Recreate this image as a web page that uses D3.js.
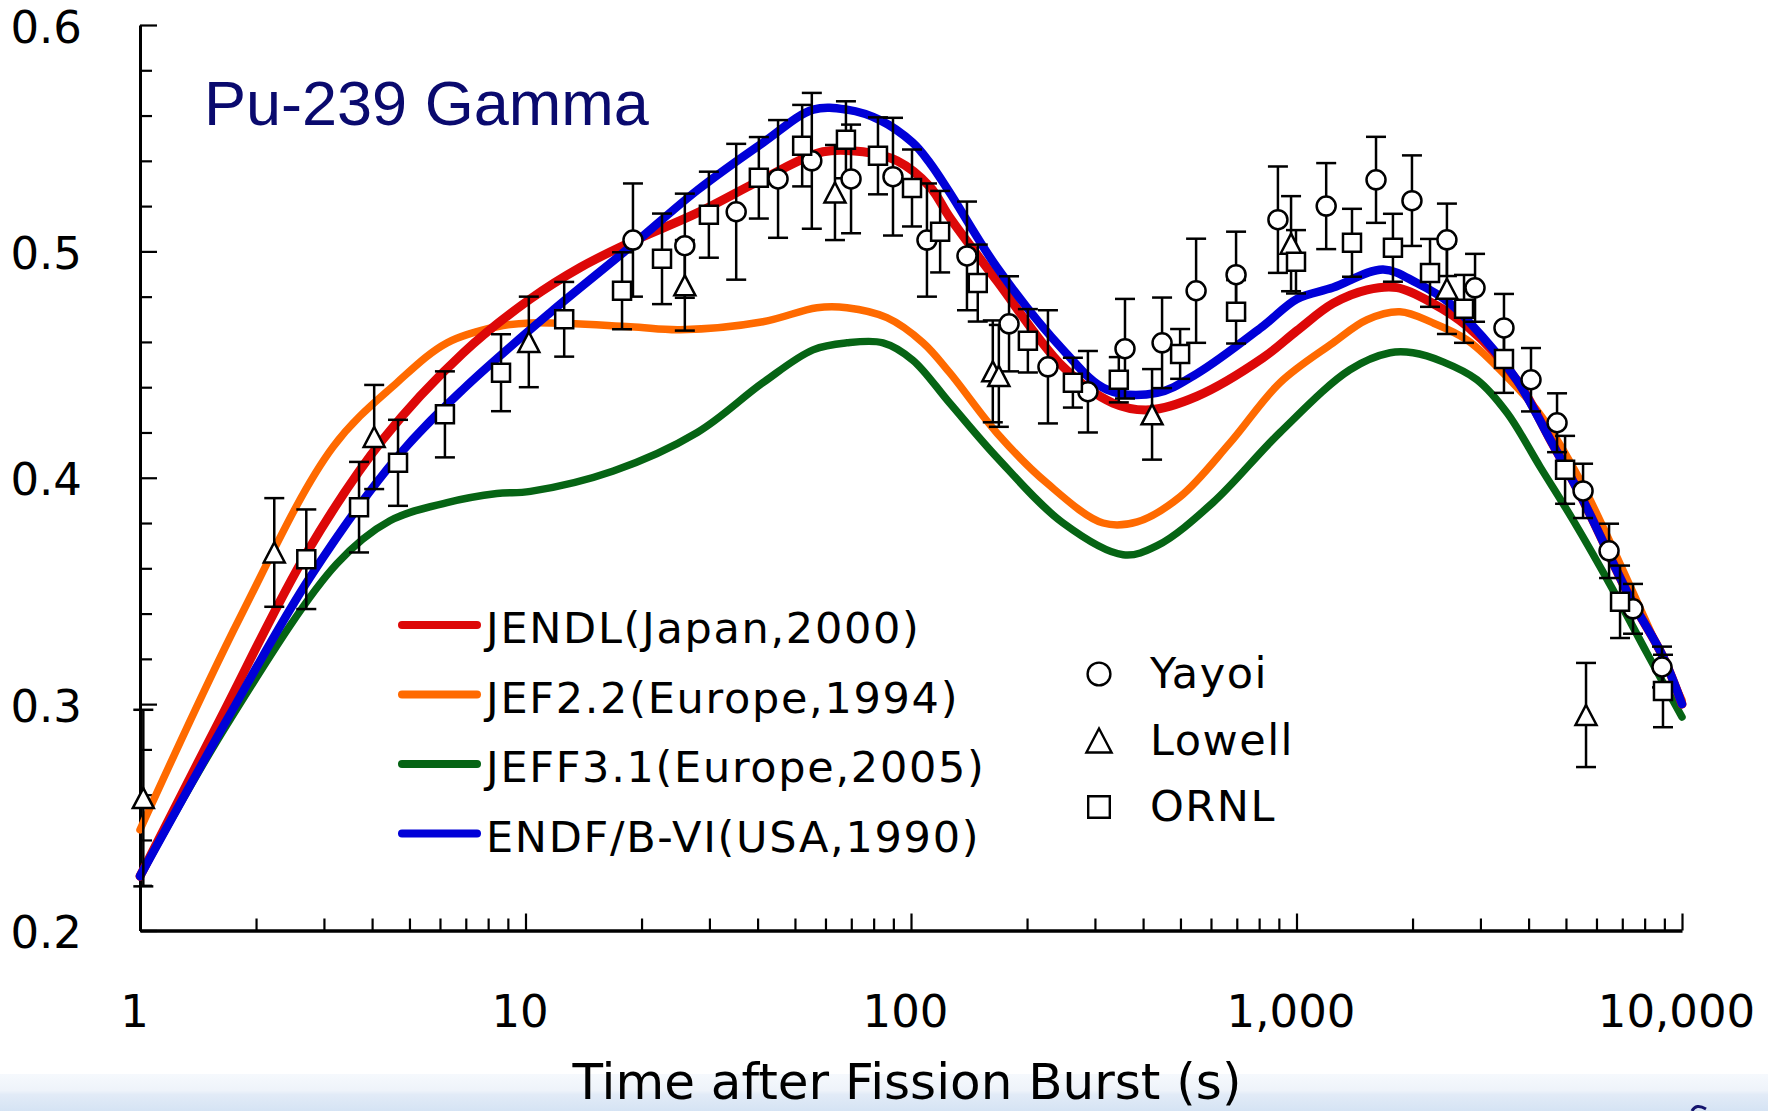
<!DOCTYPE html>
<html>
<head>
<meta charset="utf-8">
<script src="https://cdn.jsdelivr.net/npm/d3@7"></script>
<style>
  html, body { margin: 0; padding: 0; background: #fff; }
  svg { display: block; }
</style>
</head>
<body>
<div id="chart"></div>
<script>
// evaluated libraries: [t (s), value]
const jendl = [
    [1, 0.224], [1.61, 0.293], [2.71, 0.367], [4.27, 0.417], [6.88, 0.455], [10.3, 0.479],
    [13.9, 0.493], [18.7, 0.504], [27.9, 0.517], [41.3, 0.532], [59.1, 0.544], [75.1, 0.544],
    [92, 0.540], [112, 0.5285], [126, 0.515], [167, 0.487], [248, 0.449], [334, 0.433],
    [417, 0.430], [552, 0.436], [819, 0.453], [1003, 0.465], [1244, 0.477], [1524, 0.483],
    [1823, 0.484], [2260, 0.477], [2768, 0.467], [3733, 0.443], [4545, 0.417], [5538, 0.390],
    [7334, 0.347], [8926, 0.321], [10000, 0.300]
]
const jef22 = [
    [1, 0.2445], [1.82, 0.3385], [3.17, 0.4137], [4.64, 0.442], [6.26, 0.4596], [8.43, 0.4667],
    [10.3, 0.4684], [18.7, 0.4667], [25.2, 0.4654], [41.3, 0.4689], [57, 0.4751], [68.2, 0.4751],
    [86.6, 0.4707], [107.5, 0.4596], [126, 0.4464], [167, 0.4198], [225, 0.3977], [315, 0.380],
    [386, 0.3805], [499, 0.3916], [672, 0.4154], [906, 0.442], [1244, 0.4596], [1524, 0.4698],
    [1855, 0.4733], [2260, 0.4684], [2768, 0.4609], [3373, 0.4477], [4285, 0.428], [5436, 0.3991],
    [8413, 0.3297], [10000, 0.3018]
]
const jeff31 = [
    [1, 0.224], [1.71, 0.293], [3.24, 0.362], [4.45, 0.381], [6.26, 0.389], [8.43, 0.393],
    [10.3, 0.394], [16.9, 0.403], [27.9, 0.420], [41.3, 0.442], [55.7, 0.4565], [68.2, 0.4596],
    [84.6, 0.4596], [101, 0.452], [126, 0.433], [167, 0.409], [248, 0.380], [355, 0.366],
    [435, 0.370], [607, 0.389], [906, 0.420], [1376, 0.4477], [1749, 0.4552], [2005, 0.4552],
    [2399, 0.4512], [2938, 0.4433], [3516, 0.4287], [4285, 0.4048], [5213, 0.3814], [6622, 0.3505],
    [8110, 0.3226], [10000, 0.2943]
]
const endfb6 = [
    [1, 0.224], [1.68, 0.293], [2.76, 0.356], [4.64, 0.409], [6.88, 0.439], [11.6, 0.473],
    [18.7, 0.502], [27.9, 0.527], [41.3, 0.548], [55.7, 0.5626], [68.2, 0.5626], [83.1, 0.558],
    [101, 0.548], [112, 0.539], [126, 0.526], [167, 0.493], [248, 0.4565], [322, 0.439],
    [435, 0.4375], [552, 0.446], [819, 0.467], [1003, 0.479], [1244, 0.484], [1677, 0.492],
    [2054, 0.486], [2501, 0.477], [3047, 0.462], [3733, 0.443], [4545, 0.417], [5538, 0.390],
    [7334, 0.347], [8926, 0.321], [10000, 0.300]
]

// measurements: [t (s), value, error]
const yayoi = [
    [19.0, 0.505, 0.025], [25.9, 0.5025, 0.023], [35.2, 0.5175, 0.030], [45.2, 0.532, 0.026],
    [55.3, 0.540, 0.030], [69.9, 0.532, 0.024], [89.8, 0.533, 0.026], [110, 0.505, 0.025],
    [139.7, 0.498, 0.024], [179.6, 0.468, 0.021], [226.6, 0.449, 0.025], [287.7, 0.438, 0.018],
    [359, 0.457, 0.022], [448, 0.4596, 0.020], [549, 0.4826, 0.023], [697, 0.4897, 0.019],
    [895, 0.514, 0.0235], [1194, 0.520, 0.019], [1608, 0.5316, 0.019], [1993, 0.5224, 0.020],
    [2456, 0.5051, 0.016], [2905, 0.4839, 0.015], [3453, 0.4662, 0.015], [4058, 0.4433, 0.014],
    [4741, 0.4243, 0.013], [5538, 0.3942, 0.012], [6468, 0.3677, 0.012], [7464, 0.3421, 0.011],
    [8874, 0.3164, 0.009]
]
const lowell = [
    [1.02, 0.2585, 0.039], [2.23, 0.367, 0.024], [4.05, 0.418, 0.023], [10.2, 0.460, 0.020],
    [25.9, 0.485, 0.020], [63.5, 0.526, 0.021], [163, 0.447, 0.0225], [169, 0.445, 0.0225],
    [422, 0.428, 0.020], [968, 0.5034, 0.021], [2456, 0.4835, 0.020], [5637, 0.2952, 0.023]
]
const ornl = [
    [2.70, 0.364, 0.022], [3.70, 0.387, 0.020], [4.67, 0.4066, 0.019], [6.18, 0.428, 0.019],
    [8.64, 0.4464, 0.017], [12.6, 0.470, 0.0165], [17.8, 0.4826, 0.017], [22.6, 0.4967, 0.020],
    [29.9, 0.5162, 0.019], [40.3, 0.5325, 0.018], [52.2, 0.5467, 0.018], [67.8, 0.5493, 0.017],
    [82.1, 0.5422, 0.017], [100.6, 0.528, 0.017], [119, 0.5087, 0.018], [149, 0.486, 0.017],
    [201, 0.4605, 0.014], [263, 0.442, 0.011], [346, 0.4433, 0.010], [499, 0.4547, 0.011],
    [697, 0.4733, 0.014], [997, 0.4954, 0.014], [1393, 0.5038, 0.015], [1779, 0.5016, 0.015],
    [2220, 0.4905, 0.015], [2720, 0.4746, 0.015], [3453, 0.4525, 0.015], [4974, 0.4035, 0.015],
    [6907, 0.3452, 0.016], [8926, 0.3058, 0.016]
]

const xTicks = [1, 10, 100, 1000, 10000]
const yTicks = [0.2, 0.3, 0.4, 0.5, 0.6]
const libNames = ["JENDL(Japan,2000)", "JEF2.2(Europe,1994)", "JEFF3.1(Europe,2005)", "ENDF/B-VI(USA,1990)"]
const libColors = ["#dd0808", "#ff6a00", "#066414", "#0000d8"]
const expNames = ["Yayoi", "Lowell", "ORNL"]

const width = 1768
const height = 1111
const font = "'DejaVu Sans', sans-serif"

const svg = d3.select("#chart")
    .append("svg")
    .attr("width", width)
    .attr("height", height)

// pale band along the bottom of the slide
const grad = svg.append("defs").append("linearGradient")
    .attr("id", "band")
    .attr("x1", 0).attr("y1", 0).attr("x2", 0).attr("y2", 1)
grad.append("stop").attr("offset", "0%").attr("stop-color", "#f6f9fd")
grad.append("stop").attr("offset", "45%").attr("stop-color", "#eef3fa")
grad.append("stop").attr("offset", "55%").attr("stop-color", "#e2ebf7")
grad.append("stop").attr("offset", "100%").attr("stop-color", "#d5e3f4")
svg.append("rect")
    .attr("x", 0).attr("y", 1074)
    .attr("width", width).attr("height", height - 1074)
    .attr("fill", "url(#band)")
svg.append("path")
    .attr("d", "M1692,1111 Q1696,1103 1706,1109")
    .attr("fill", "none")
    .attr("stroke", "#14146e")
    .attr("stroke-width", 3)

const xScale = d3.scaleLog()
    .domain([1, 10000])
    .range([140, 1682])
const yScale = d3.scaleLinear()
    .domain([0.2, 0.6])
    .range([930.5, 25])

// axes
const xMinor = []
xTicks.slice(0, -1).forEach(d => d3.range(2, 10).forEach(k => xMinor.push(d * k)))
const yMinor = d3.range(0.22, 0.6, 0.02).filter(d => Math.abs(d * 10 - Math.round(d * 10)) > 0.01)

const xAxisG = svg.append("g")
    .attr("transform", `translate(0, ${yScale(0.2)})`)
xAxisG.append("g")
    .call(d3.axisBottom(xScale).tickValues(xMinor).tickSize(-12).tickSizeOuter(0).tickFormat(""))
    .call(g => g.select(".domain").remove())
xAxisG.append("g")
    .call(d3.axisBottom(xScale).tickValues(xTicks).tickSize(-17).tickSizeOuter(0).tickFormat(d3.format(",")))
    .call(g => g.select(".domain").attr("stroke-width", 3.5))
    .call(g => g.selectAll("text")
        .attr("y", 96)
        .attr("dy", null)
        .attr("dx", -6)
        .attr("fill", "#000")
        .style("font-family", font)
        .style("font-size", "45px"))
xAxisG.selectAll(".tick line").attr("stroke", "#000").attr("stroke-width", 2.2)

const yAxisG = svg.append("g")
    .attr("transform", `translate(${xScale(1)}, 0)`)
yAxisG.append("g")
    .call(d3.axisLeft(yScale).tickValues(yMinor).tickSize(-12).tickSizeOuter(0).tickFormat(""))
    .call(g => g.select(".domain").remove())
yAxisG.append("g")
    .call(d3.axisLeft(yScale).tickValues(yTicks).tickSize(-17).tickSizeOuter(0).tickFormat(d3.format(".1f")))
    .call(g => g.select(".domain").attr("stroke-width", 3))
    .call(g => g.selectAll("text")
        .attr("x", -58)
        .attr("dy", null)
        .attr("y", 17)
        .attr("fill", "#000")
        .style("font-family", font)
        .style("font-size", "45px"))
yAxisG.selectAll(".tick line").attr("stroke", "#000").attr("stroke-width", 2.2)

// title
svg.append("text")
    .attr("x", 204)
    .attr("y", 125)
    .attr("fill", "#0a0a6e")
    .style("font-family", "'Liberation Sans', Arial, sans-serif")
    .style("font-size", "63px")
    .text("Pu-239 Gamma")

// library curves
const line = d3.line()
    .x(d => xScale(d[0]))
    .y(d => yScale(d[1]))
    .curve(d3.curveCatmullRom.alpha(0.5))

const curves = [
    { data: jeff31, color: libColors[2], w: 7.5 },
    { data: jef22, color: libColors[1], w: 7.5 },
    { data: jendl, color: libColors[0], w: 9 },
    { data: endfb6, color: libColors[3], w: 8.5 },
]
svg.append("g")
    .selectAll("path")
    .data(curves)
    .join("path")
    .attr("d", d => line(d.data))
    .attr("fill", "none")
    .attr("stroke", d => d.color)
    .attr("stroke-width", d => d.w)
    .attr("stroke-linecap", "round")
    .attr("stroke-linejoin", "round")

// measurements
const symbolPath = {
    circle: "M-9.5,0A9.5,9.5 0 1,0 9.5,0A9.5,9.5 0 1,0 -9.5,0Z",
    triangle: "M0,-10L10.5,10L-10.5,10Z",
    square: "M-9,-9H9V9H-9Z",
}
const sets = [
    { data: yayoi, shape: "circle" },
    { data: lowell, shape: "triangle" },
    { data: ornl, shape: "square" },
]
const points = svg.append("g")
sets.forEach(s => {
    const errs = points.append("g")
        .attr("stroke", "#000")
        .attr("stroke-width", 2.5)
        .selectAll("g")
        .data(s.data)
        .join("g")
    errs.append("line")
        .attr("x1", d => xScale(d[0])).attr("x2", d => xScale(d[0]))
        .attr("y1", d => yScale(d[1] + d[2])).attr("y2", d => yScale(d[1] - d[2]))
    errs.append("line")
        .attr("x1", d => xScale(d[0]) - 10).attr("x2", d => xScale(d[0]) + 10)
        .attr("y1", d => yScale(d[1] + d[2])).attr("y2", d => yScale(d[1] + d[2]))
    errs.append("line")
        .attr("x1", d => xScale(d[0]) - 10).attr("x2", d => xScale(d[0]) + 10)
        .attr("y1", d => yScale(d[1] - d[2])).attr("y2", d => yScale(d[1] - d[2]))
})
sets.forEach(s => {
    points.append("g")
        .selectAll("path")
        .data(s.data)
        .join("path")
        .attr("transform", d => `translate(${xScale(d[0])}, ${yScale(d[1])})`)
        .attr("d", symbolPath[s.shape])
        .attr("fill", "#fff")
        .attr("stroke", "#000")
        .attr("stroke-width", 2.5)
})

// legend for libraries
const legend1 = svg.append("g")
    .selectAll("g")
    .data(libNames)
    .join("g")
    .attr("transform", (d, i) => `translate(402, ${625 + i * 69.5})`)
legend1.append("line")
    .attr("x1", 0).attr("x2", 75)
    .attr("stroke", (d, i) => libColors[i])
    .attr("stroke-width", 8)
    .attr("stroke-linecap", "round")
legend1.append("text")
    .attr("x", 84)
    .attr("y", 18)
    .style("font-family", font)
    .style("font-size", "43px")
    .style("letter-spacing", "1.7px")
    .text(d => d)

// legend for measurements
const legend2 = svg.append("g")
    .selectAll("g")
    .data(expNames)
    .join("g")
    .attr("transform", (d, i) => `translate(1099, ${674 + i * 66.5})`)
legend2.append("path")
    .attr("d", (d, i) => symbolPath[sets[i].shape])
    .attr("transform", "scale(1.2)")
    .attr("fill", "#fff")
    .attr("stroke", "#000")
    .attr("stroke-width", 2)
legend2.append("text")
    .attr("x", 51)
    .attr("y", 14)
    .style("font-family", font)
    .style("font-size", "43px")
    .style("letter-spacing", "1.5px")
    .text(d => d)

// axis title
svg.append("text")
    .attr("x", 907)
    .attr("y", 1099)
    .attr("text-anchor", "middle")
    .style("font-family", font)
    .style("font-size", "50px")
    .text("Time after Fission Burst (s)")
</script>
</body>
</html>
